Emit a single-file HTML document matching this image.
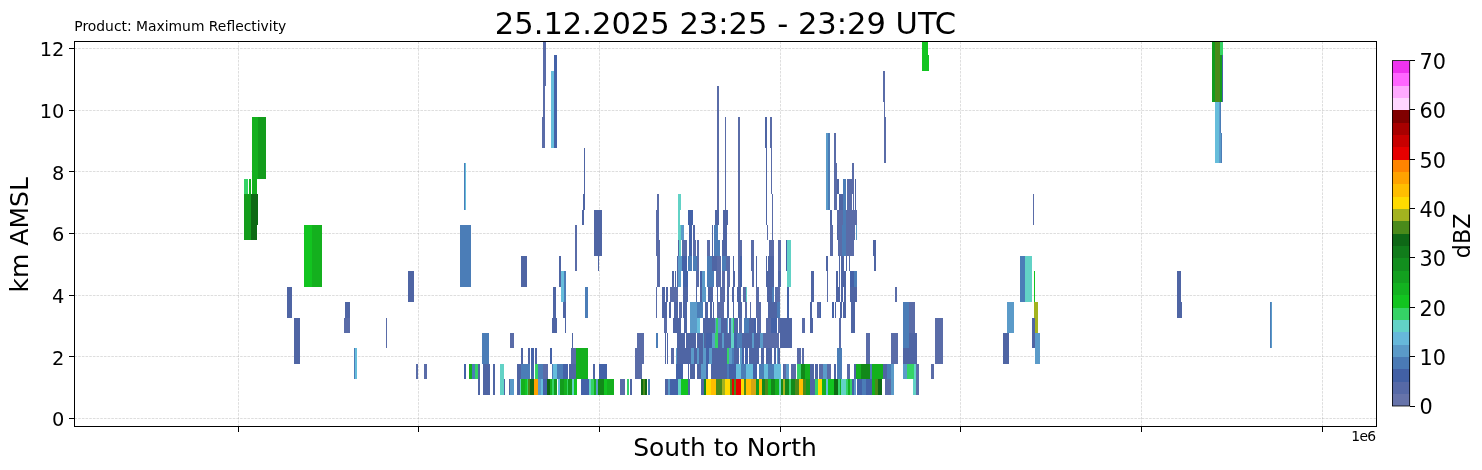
<!DOCTYPE html>
<html lang="en">
<head>
<meta charset="utf-8">
<title>25.12.2025 23:25 - 23:29 UTC</title>
<style>
html,body{margin:0;padding:0;background:#fff;}
body{width:1482px;height:470px;overflow:hidden;}
svg{display:block;will-change:transform;}
text{font-family:"DejaVu Sans","Liberation Sans",sans-serif;fill:#000;}
.g line{stroke:#b0b0b0;stroke-width:0.69;stroke-dasharray:2.57 1.11;stroke-opacity:0.6}
.t line{stroke:#000;stroke-width:1;shape-rendering:crispEdges}
.tl{font-size:19.4px}
.cl{font-size:20.8px}
</style>
</head>
<body>
<svg width="1482" height="470" viewBox="0 0 1482 470">
<rect x="0" y="0" width="1482" height="470" fill="#fff"/>

<g class="g">
<line x1="238.5" y1="41.5" x2="238.5" y2="426.5"/>
<line x1="418.5" y1="41.5" x2="418.5" y2="426.5"/>
<line x1="599.5" y1="41.5" x2="599.5" y2="426.5"/>
<line x1="780.5" y1="41.5" x2="780.5" y2="426.5"/>
<line x1="960.5" y1="41.5" x2="960.5" y2="426.5"/>
<line x1="1141.5" y1="41.5" x2="1141.5" y2="426.5"/>
<line x1="1322.5" y1="41.5" x2="1322.5" y2="426.5"/>
<line x1="74.5" y1="418.5" x2="1376.5" y2="418.5"/>
<line x1="74.5" y1="356.5" x2="1376.5" y2="356.5"/>
<line x1="74.5" y1="295.5" x2="1376.5" y2="295.5"/>
<line x1="74.5" y1="233.5" x2="1376.5" y2="233.5"/>
<line x1="74.5" y1="171.5" x2="1376.5" y2="171.5"/>
<line x1="74.5" y1="110.5" x2="1376.5" y2="110.5"/>
<line x1="74.5" y1="48.5" x2="1376.5" y2="48.5"/>
</g>
<g id="cells" shape-rendering="crispEdges">
<rect x="477.88" y="363.78" width="1.92" height="30.83" fill="#4f65a4"/>
<rect x="483.37" y="363.78" width="6.26" height="30.83" fill="#4f65a4"/>
<rect x="492.94" y="363.78" width="1.92" height="30.83" fill="#4f65a4"/>
<rect x="464.09" y="363.78" width="1.79" height="15.42" fill="#4462a8"/>
<rect x="469.19" y="363.78" width="3.19" height="15.42" fill="#14b01e"/>
<rect x="472.39" y="363.78" width="2.68" height="15.42" fill="#4b7db7"/>
<rect x="475.07" y="363.78" width="2.81" height="15.42" fill="#35d366"/>
<rect x="531.25" y="348.36" width="2.55" height="15.41" fill="#4462a8"/>
<rect x="575.93" y="348.36" width="11.75" height="15.41" fill="#14b01e"/>
<rect x="635.18" y="348.36" width="8.42" height="15.41" fill="#5a6ca8"/>
<rect x="482.34" y="332.95" width="6.38" height="30.83" fill="#4b7db7"/>
<rect x="521.03" y="348.36" width="1.79" height="15.41" fill="#4f65a4"/>
<rect x="528.31" y="348.36" width="1.66" height="15.41" fill="#4f65a4"/>
<rect x="535.33" y="348.36" width="1.28" height="15.41" fill="#4f65a4"/>
<rect x="550.14" y="348.36" width="1.79" height="15.41" fill="#4462a8"/>
<rect x="571.08" y="348.36" width="4.47" height="15.41" fill="#5a6ca8"/>
<rect x="510.18" y="332.95" width="3.45" height="15.42" fill="#5a6ca8"/>
<rect x="572" y="332.95" width="1" height="15.42" fill="#4f65a4"/>
<rect x="636.84" y="332.95" width="7.02" height="15.42" fill="#5a6ca8"/>
<rect x="688" y="379.19" width="1" height="15.41" fill="#12c420"/>
<rect x="688.26" y="379.19" width="1.53" height="15.41" fill="#4f65a4"/>
<rect x="640" y="332.95" width="1.53" height="30.83" fill="#5a6ca8"/>
<rect x="688" y="363.78" width="1" height="15.42" fill="#4f65a4"/>
<rect x="690.05" y="363.78" width="2.55" height="15.42" fill="#4f65a4"/>
<rect x="693.37" y="363.78" width="1.28" height="15.42" fill="#4f65a4"/>
<rect x="697.07" y="363.78" width="3.58" height="15.42" fill="#4f65a4"/>
<rect x="700.65" y="363.78" width="5.11" height="15.42" fill="#5b9bc9"/>
<rect x="705.76" y="363.78" width="2.3" height="15.42" fill="#4462a8"/>
<rect x="711.12" y="363.78" width="15.7" height="15.42" fill="#4f65a4"/>
<rect x="726.82" y="363.78" width="2.55" height="15.42" fill="#4b7db7"/>
<rect x="729.38" y="363.78" width="6.38" height="15.42" fill="#4462a8"/>
<rect x="735.76" y="363.78" width="5.11" height="15.42" fill="#66bddb"/>
<rect x="740.87" y="363.78" width="5.11" height="15.42" fill="#4b7db7"/>
<rect x="745.98" y="363.78" width="7.02" height="15.42" fill="#66bddb"/>
<rect x="753" y="363.78" width="3.83" height="15.42" fill="#4462a8"/>
<rect x="759" y="363.78" width="5.49" height="15.42" fill="#4b7db7"/>
<rect x="764.49" y="363.78" width="3.83" height="15.42" fill="#66bddb"/>
<rect x="768.32" y="363.78" width="5.75" height="15.42" fill="#4b7db7"/>
<rect x="774.07" y="363.78" width="7.02" height="15.42" fill="#66bddb"/>
<rect x="783" y="363.78" width="1" height="15.42" fill="#4f65a4"/>
<rect x="641.53" y="332.95" width="2.04" height="30.83" fill="#5a6ca8"/>
<rect x="665" y="332.95" width="1" height="30.83" fill="#4f65a4"/>
<rect x="667" y="332.95" width="1" height="30.83" fill="#4f65a4"/>
<rect x="671.28" y="348.36" width="2.55" height="15.41" fill="#5a6ca8"/>
<rect x="676.13" y="348.36" width="1.15" height="15.41" fill="#5b9bc9"/>
<rect x="677.28" y="348.36" width="13.79" height="15.41" fill="#4f65a4"/>
<rect x="691.07" y="348.36" width="2.55" height="15.41" fill="#5b9bc9"/>
<rect x="693.63" y="348.36" width="3.83" height="15.41" fill="#4f65a4"/>
<rect x="697.46" y="348.36" width="1.92" height="15.41" fill="#5b9bc9"/>
<rect x="699.37" y="348.36" width="3.19" height="15.41" fill="#4f65a4"/>
<rect x="702.56" y="348.36" width="3.19" height="15.41" fill="#5b9bc9"/>
<rect x="705.76" y="348.36" width="3.19" height="15.41" fill="#4462a8"/>
<rect x="708.95" y="348.36" width="2.55" height="15.41" fill="#5b9bc9"/>
<rect x="711.5" y="348.36" width="15.32" height="15.41" fill="#4f65a4"/>
<rect x="726.82" y="348.36" width="2.55" height="15.41" fill="#35d366"/>
<rect x="729.38" y="348.36" width="2.55" height="15.41" fill="#5b9bc9"/>
<rect x="731.93" y="348.36" width="2.55" height="15.41" fill="#4b7db7"/>
<rect x="734.48" y="348.36" width="4.47" height="15.41" fill="#4f65a4"/>
<rect x="740.23" y="348.36" width="1.92" height="15.41" fill="#5b9bc9"/>
<rect x="742.15" y="348.36" width="1.92" height="15.41" fill="#4462a8"/>
<rect x="745.34" y="348.36" width="2.55" height="15.41" fill="#4462a8"/>
<rect x="749.17" y="348.36" width="9.58" height="15.41" fill="#4f65a4"/>
<rect x="761.04" y="348.36" width="2.81" height="15.41" fill="#4f65a4"/>
<rect x="766.15" y="348.36" width="6" height="15.41" fill="#4f65a4"/>
<rect x="774.07" y="348.36" width="1.53" height="15.41" fill="#4f65a4"/>
<rect x="776.62" y="348.36" width="1.28" height="15.41" fill="#5b9bc9"/>
<rect x="777.9" y="348.36" width="2.55" height="15.41" fill="#4f65a4"/>
<rect x="797.3" y="348.36" width="3.58" height="15.41" fill="#5a6ca8"/>
<rect x="801.9" y="348.36" width="1.79" height="15.41" fill="#5a6ca8"/>
<rect x="656.34" y="332.95" width="1.53" height="15.42" fill="#4b7db7"/>
<rect x="677.28" y="332.95" width="7.41" height="15.42" fill="#4f65a4"/>
<rect x="685.97" y="332.95" width="9.58" height="15.42" fill="#4f65a4"/>
<rect x="696.82" y="332.95" width="5.75" height="15.42" fill="#4f65a4"/>
<rect x="702.56" y="332.95" width="1.28" height="15.42" fill="#5b9bc9"/>
<rect x="703.84" y="332.95" width="2.55" height="15.42" fill="#4f65a4"/>
<rect x="706.39" y="332.95" width="5.11" height="15.42" fill="#4462a8"/>
<rect x="711.5" y="332.95" width="3.83" height="15.42" fill="#5b9bc9"/>
<rect x="715.33" y="332.95" width="2.55" height="15.42" fill="#35d366"/>
<rect x="717.89" y="332.95" width="3.83" height="15.42" fill="#4f65a4"/>
<rect x="721.72" y="332.95" width="2.55" height="15.42" fill="#5b9bc9"/>
<rect x="724.27" y="332.95" width="6.38" height="15.42" fill="#4f65a4"/>
<rect x="730.65" y="332.95" width="3.83" height="15.42" fill="#62d2c6"/>
<rect x="734.48" y="332.95" width="2.55" height="15.42" fill="#4462a8"/>
<rect x="737.04" y="332.95" width="5.11" height="15.42" fill="#4b7db7"/>
<rect x="742.15" y="332.95" width="10.21" height="15.42" fill="#4f65a4"/>
<rect x="752.36" y="332.95" width="1.92" height="15.42" fill="#5b9bc9"/>
<rect x="754.27" y="332.95" width="5.75" height="15.42" fill="#4f65a4"/>
<rect x="760.02" y="332.95" width="3.19" height="15.42" fill="#5b9bc9"/>
<rect x="763.21" y="332.95" width="15.32" height="15.42" fill="#5a6ca8"/>
<rect x="780.45" y="332.95" width="11.24" height="15.42" fill="#4f65a4"/>
<rect x="878" y="379.19" width="1" height="15.41" fill="#4a8a1a"/>
<rect x="878.09" y="379.19" width="3.83" height="15.41" fill="#0e6a14"/>
<rect x="885.12" y="363.78" width="5.75" height="30.83" fill="#5a6ca8"/>
<rect x="890.86" y="363.78" width="2.94" height="30.83" fill="#5b9bc9"/>
<rect x="913.21" y="379.19" width="2.81" height="15.41" fill="#62d2c6"/>
<rect x="916.02" y="363.78" width="2.94" height="30.83" fill="#5a6ca8"/>
<rect x="837.24" y="348.36" width="4.47" height="15.41" fill="#4b7db7"/>
<rect x="878" y="363.78" width="4.56" height="15.42" fill="#14b01e"/>
<rect x="882.56" y="363.78" width="4.47" height="15.42" fill="#4f65a4"/>
<rect x="887.03" y="363.78" width="3.83" height="15.42" fill="#4b7db7"/>
<rect x="903.25" y="363.78" width="4.21" height="15.42" fill="#5b9bc9"/>
<rect x="907.46" y="363.78" width="6.38" height="15.42" fill="#35d366"/>
<rect x="913.85" y="363.78" width="2.17" height="15.42" fill="#62d2c6"/>
<rect x="931.08" y="363.78" width="2.81" height="15.42" fill="#5a6ca8"/>
<rect x="839.15" y="332.95" width="1.53" height="15.42" fill="#5a6ca8"/>
<rect x="866.22" y="332.95" width="3.58" height="30.83" fill="#5a6ca8"/>
<rect x="891.25" y="332.95" width="6.64" height="30.83" fill="#5a6ca8"/>
<rect x="903.25" y="348.36" width="13.53" height="15.41" fill="#4f65a4"/>
<rect x="903.25" y="332.95" width="6.13" height="15.42" fill="#4b7db7"/>
<rect x="909.38" y="332.95" width="7.41" height="15.42" fill="#4f65a4"/>
<rect x="935.17" y="332.95" width="7.66" height="30.83" fill="#5a6ca8"/>
<rect x="1003.22" y="332.95" width="1.79" height="30.83" fill="#5a6ca8"/>
<rect x="1003" y="332.95" width="6" height="30.83" fill="#4f65a4"/>
<rect x="1007.1" y="302.12" width="6.9" height="30.83" fill="#5b9bc9"/>
<rect x="1020.3" y="255.87" width="4.7" height="46.25" fill="#4b7db7"/>
<rect x="1025" y="255.87" width="6.9" height="46.25" fill="#62d2c6"/>
<rect x="1034" y="271.29" width="1" height="30.83" fill="#12c420"/>
<rect x="1033.9" y="302.12" width="4.4" height="30.83" fill="#a3b31f"/>
<rect x="1031.9" y="317.53" width="2.7" height="30.83" fill="#4f65a4"/>
<rect x="1035.2" y="332.95" width="4.6" height="30.83" fill="#5b9bc9"/>
<rect x="1033" y="194.21" width="1" height="30.83" fill="#5a6ca8"/>
<rect x="1177.1" y="271.29" width="3.9" height="46.25" fill="#4f65a4"/>
<rect x="1181" y="302.12" width="1" height="15.41" fill="#4f65a4"/>
<rect x="1270" y="302.12" width="1" height="46.25" fill="#4b7db7"/>
<rect x="1271" y="302.12" width="1" height="46.25" fill="#5b9bc9"/>
<rect x="1212.2" y="41.5" width="3.2" height="60.22" fill="#139c1c"/>
<rect x="1215.4" y="41.5" width="4.5" height="60.22" fill="#4a8a1a"/>
<rect x="1219.9" y="55.48" width="2.6" height="46.25" fill="#139c1c"/>
<rect x="1219.9" y="41.5" width="2.6" height="13.98" fill="#35d366"/>
<rect x="1222" y="55.48" width="1" height="46.25" fill="#4462a8"/>
<rect x="1215.1" y="101.72" width="4.3" height="61.66" fill="#66bddb"/>
<rect x="1219.4" y="101.72" width="1.1" height="61.66" fill="#5b9bc9"/>
<rect x="1220" y="101.72" width="1" height="30.83" fill="#4b7db7"/>
<rect x="1220.5" y="132.55" width="1.7" height="30.83" fill="#4b7db7"/>
<rect x="252.3" y="117.14" width="6" height="61.66" fill="#14b01e"/>
<rect x="258.3" y="117.14" width="7.7" height="61.66" fill="#139c1c"/>
<rect x="244.3" y="178.8" width="3.7" height="15.41" fill="#35d366"/>
<rect x="249.1" y="178.8" width="1.6" height="15.41" fill="#14b01e"/>
<rect x="251.6" y="178.8" width="5.1" height="15.41" fill="#14b01e"/>
<rect x="244.3" y="194.21" width="6.9" height="46.25" fill="#139c1c"/>
<rect x="251.2" y="194.21" width="6.3" height="30.83" fill="#0e6a14"/>
<rect x="251.2" y="225.04" width="5.6" height="15.41" fill="#0e6a14"/>
<rect x="304.2" y="225.04" width="8" height="61.66" fill="#12c420"/>
<rect x="312.2" y="225.04" width="9.8" height="61.66" fill="#14b01e"/>
<rect x="287.1" y="286.7" width="4.8" height="30.83" fill="#4f65a4"/>
<rect x="294.3" y="317.53" width="5.5" height="46.25" fill="#4f65a4"/>
<rect x="345.3" y="302.12" width="4.6" height="15.41" fill="#4f65a4"/>
<rect x="344" y="317.53" width="5.9" height="15.42" fill="#5a6ca8"/>
<rect x="354" y="348.36" width="1" height="30.83" fill="#4b7db7"/>
<rect x="355" y="348.36" width="1.8" height="30.83" fill="#66bddb"/>
<rect x="386" y="317.53" width="1" height="30.83" fill="#5a6ca8"/>
<rect x="408.2" y="271.29" width="5.6" height="30.83" fill="#4f65a4"/>
<rect x="416.3" y="363.78" width="1.7" height="15.42" fill="#5a6ca8"/>
<rect x="424.2" y="363.78" width="2.8" height="15.42" fill="#5a6ca8"/>
<rect x="460.1" y="225.04" width="10.7" height="61.66" fill="#4b7db7"/>
<rect x="521.1" y="255.87" width="5.6" height="30.83" fill="#4f65a4"/>
<rect x="559.1" y="255.87" width="1.5" height="30.83" fill="#4f65a4"/>
<rect x="560.6" y="271.29" width="2.9" height="30.83" fill="#66bddb"/>
<rect x="563.5" y="271.29" width="2" height="30.83" fill="#4b7db7"/>
<rect x="553.2" y="286.7" width="2.6" height="30.83" fill="#4f65a4"/>
<rect x="552.2" y="317.53" width="4.6" height="15.42" fill="#4f65a4"/>
<rect x="563.2" y="302.12" width="2.3" height="15.41" fill="#4f65a4"/>
<rect x="565" y="317.53" width="1" height="15.42" fill="#4f65a4"/>
<rect x="575.2" y="225.04" width="1.5" height="46.24" fill="#5a6ca8"/>
<rect x="594.1" y="209.63" width="7.6" height="46.25" fill="#4f65a4"/>
<rect x="597.9" y="255.87" width="1" height="15.41" fill="#4f65a4"/>
<rect x="585.1" y="286.7" width="2.9" height="30.83" fill="#4b7db7"/>
<rect x="464" y="163.38" width="1" height="46.24" fill="#4b7db7"/>
<rect x="464.5" y="163.38" width="1.2" height="46.24" fill="#66bddb"/>
<rect x="584.1" y="147.97" width="1" height="46.25" fill="#4f65a4"/>
<rect x="583.3" y="194.21" width="1.2" height="15.41" fill="#4f65a4"/>
<rect x="582.1" y="209.63" width="1.5" height="15.42" fill="#4f65a4"/>
<rect x="543" y="41.5" width="2.8" height="44.81" fill="#5a6ca8"/>
<rect x="542.5" y="86.31" width="2.3" height="30.83" fill="#5a6ca8"/>
<rect x="542" y="117.14" width="2.8" height="30.83" fill="#5a6ca8"/>
<rect x="551.4" y="70.89" width="2.6" height="77.07" fill="#66bddb"/>
<rect x="554" y="55.48" width="2.8" height="92.49" fill="#4462a8"/>
<rect x="664.26" y="317.53" width="2.55" height="15.42" fill="#5a6ca8"/>
<rect x="673.45" y="317.53" width="8.04" height="15.42" fill="#4f65a4"/>
<rect x="684.43" y="317.53" width="3.06" height="15.42" fill="#4f65a4"/>
<rect x="690.43" y="302.12" width="7.02" height="30.83" fill="#5b9bc9"/>
<rect x="697.46" y="317.53" width="2.55" height="15.42" fill="#66bddb"/>
<rect x="702.82" y="317.53" width="12.51" height="15.42" fill="#4f65a4"/>
<rect x="715" y="317.53" width="1" height="15.42" fill="#5b9bc9"/>
<rect x="716.1" y="317.53" width="2.04" height="15.42" fill="#35d366"/>
<rect x="718.14" y="317.53" width="2.94" height="15.42" fill="#5b9bc9"/>
<rect x="721.08" y="317.53" width="5.75" height="15.42" fill="#4f65a4"/>
<rect x="726.82" y="317.53" width="1.28" height="15.42" fill="#5b9bc9"/>
<rect x="729.38" y="317.53" width="1.53" height="15.42" fill="#4f65a4"/>
<rect x="730.91" y="317.53" width="2.04" height="15.42" fill="#62d2c6"/>
<rect x="732.95" y="317.53" width="1.53" height="15.42" fill="#35d366"/>
<rect x="734.48" y="317.53" width="3.19" height="15.42" fill="#4f65a4"/>
<rect x="738.95" y="317.53" width="3.19" height="15.42" fill="#5a6ca8"/>
<rect x="744.06" y="317.53" width="4.47" height="15.42" fill="#4b7db7"/>
<rect x="748.53" y="317.53" width="5.11" height="15.42" fill="#4f65a4"/>
<rect x="753.64" y="317.53" width="1.92" height="15.42" fill="#4462a8"/>
<rect x="756.83" y="317.53" width="3.83" height="15.42" fill="#5a6ca8"/>
<rect x="765.77" y="317.53" width="5.11" height="15.42" fill="#5a6ca8"/>
<rect x="770.87" y="317.53" width="5.75" height="15.42" fill="#4462a8"/>
<rect x="777.9" y="317.53" width="2.55" height="15.42" fill="#5a6ca8"/>
<rect x="780.45" y="317.53" width="11.24" height="15.42" fill="#4f65a4"/>
<rect x="802.41" y="317.53" width="2.3" height="15.42" fill="#5a6ca8"/>
<rect x="810.45" y="317.53" width="2.17" height="15.42" fill="#4f65a4"/>
<rect x="655.96" y="286.7" width="1.28" height="30.83" fill="#5a6ca8"/>
<rect x="662.34" y="302.12" width="5.11" height="15.41" fill="#4f65a4"/>
<rect x="669.11" y="302.12" width="1.79" height="15.41" fill="#4f65a4"/>
<rect x="674.47" y="302.12" width="3.19" height="15.41" fill="#4f65a4"/>
<rect x="679.33" y="302.12" width="2.17" height="15.41" fill="#5a6ca8"/>
<rect x="683.41" y="302.12" width="3.83" height="15.41" fill="#4f65a4"/>
<rect x="697.46" y="302.12" width="5.11" height="15.41" fill="#4b7db7"/>
<rect x="705.12" y="302.12" width="2.55" height="15.41" fill="#4f65a4"/>
<rect x="709.59" y="302.12" width="2.17" height="15.41" fill="#4f65a4"/>
<rect x="713" y="302.12" width="1" height="15.41" fill="#4f65a4"/>
<rect x="716.61" y="302.12" width="7.66" height="15.41" fill="#5a6ca8"/>
<rect x="727.46" y="302.12" width="1.92" height="15.41" fill="#4f65a4"/>
<rect x="732.57" y="302.12" width="1.92" height="15.41" fill="#4f65a4"/>
<rect x="738.31" y="302.12" width="3.19" height="15.41" fill="#4f65a4"/>
<rect x="744.7" y="302.12" width="1.92" height="15.41" fill="#5a6ca8"/>
<rect x="749.81" y="302.12" width="1.28" height="15.41" fill="#5a6ca8"/>
<rect x="756.19" y="302.12" width="4.47" height="15.41" fill="#5a6ca8"/>
<rect x="767.68" y="302.12" width="9.58" height="15.41" fill="#4f65a4"/>
<rect x="777.26" y="302.12" width="3.19" height="15.41" fill="#4b7db7"/>
<rect x="786.83" y="286.7" width="1.92" height="30.83" fill="#4462a8"/>
<rect x="810.45" y="302.12" width="1.28" height="15.41" fill="#4f65a4"/>
<rect x="817.48" y="302.12" width="3.19" height="15.41" fill="#5a6ca8"/>
<rect x="662.34" y="286.7" width="2.55" height="15.42" fill="#4f65a4"/>
<rect x="666.17" y="286.7" width="1.66" height="15.42" fill="#4f65a4"/>
<rect x="669.62" y="286.7" width="8.04" height="15.42" fill="#5a6ca8"/>
<rect x="683.41" y="286.7" width="4.85" height="15.42" fill="#4f65a4"/>
<rect x="695.54" y="286.7" width="1.28" height="15.42" fill="#4f65a4"/>
<rect x="700.01" y="286.7" width="1.92" height="15.42" fill="#4f65a4"/>
<rect x="701.93" y="286.7" width="4.47" height="15.42" fill="#5b9bc9"/>
<rect x="708.31" y="286.7" width="5.11" height="15.42" fill="#4f65a4"/>
<rect x="716.61" y="286.7" width="1.53" height="15.42" fill="#4f65a4"/>
<rect x="719.8" y="286.7" width="5.11" height="15.42" fill="#5a6ca8"/>
<rect x="727.46" y="286.7" width="1.92" height="15.42" fill="#4f65a4"/>
<rect x="732.19" y="286.7" width="1.66" height="15.42" fill="#4f65a4"/>
<rect x="737.04" y="286.7" width="3.83" height="15.42" fill="#4f65a4"/>
<rect x="743.17" y="286.7" width="2.81" height="15.42" fill="#5a6ca8"/>
<rect x="745.98" y="286.7" width="1.02" height="15.42" fill="#62d2c6"/>
<rect x="756.19" y="286.7" width="3.19" height="15.42" fill="#5a6ca8"/>
<rect x="767.04" y="286.7" width="2.55" height="15.42" fill="#4f65a4"/>
<rect x="770.23" y="286.7" width="1.28" height="15.42" fill="#4f65a4"/>
<rect x="772.15" y="286.7" width="1.92" height="15.42" fill="#4b7db7"/>
<rect x="775.34" y="286.7" width="4.47" height="15.42" fill="#5a6ca8"/>
<rect x="811.09" y="286.7" width="2.81" height="15.42" fill="#4f65a4"/>
<rect x="733.21" y="271.29" width="1.53" height="15.42" fill="#4f65a4"/>
<rect x="737.68" y="255.87" width="3.83" height="30.83" fill="#4462a8"/>
<rect x="752.1" y="271.29" width="1.53" height="15.42" fill="#5a6ca8"/>
<rect x="756.19" y="271.29" width="1.28" height="15.42" fill="#4f65a4"/>
<rect x="766.4" y="271.29" width="5.11" height="15.42" fill="#4f65a4"/>
<rect x="772.15" y="271.29" width="1.92" height="15.42" fill="#4f65a4"/>
<rect x="778.41" y="271.29" width="2.55" height="15.42" fill="#4f65a4"/>
<rect x="786.83" y="240.46" width="4.09" height="46.25" fill="#62d2c6"/>
<rect x="811.09" y="271.29" width="2.81" height="15.42" fill="#4f65a4"/>
<rect x="682.13" y="240.46" width="4.47" height="15.41" fill="#5a6ca8"/>
<rect x="688.52" y="225.04" width="3.19" height="30.83" fill="#4462a8"/>
<rect x="733.21" y="255.87" width="1.02" height="15.41" fill="#4f65a4"/>
<rect x="751.47" y="240.46" width="2.17" height="30.83" fill="#5a6ca8"/>
<rect x="756" y="255.87" width="1" height="15.41" fill="#4f65a4"/>
<rect x="766" y="255.87" width="1" height="15.41" fill="#4f65a4"/>
<rect x="768.32" y="255.87" width="5.75" height="15.41" fill="#4f65a4"/>
<rect x="778.15" y="240.46" width="2.81" height="30.83" fill="#5a6ca8"/>
<rect x="785.56" y="240.46" width="1.28" height="30.83" fill="#4462a8"/>
<rect x="656.34" y="240.46" width="3.45" height="15.41" fill="#5a6ca8"/>
<rect x="677.67" y="240.46" width="1.28" height="15.41" fill="#4f65a4"/>
<rect x="678.94" y="240.46" width="2.55" height="15.41" fill="#62d2c6"/>
<rect x="693.37" y="240.46" width="2.55" height="15.41" fill="#5a6ca8"/>
<rect x="697.2" y="240.46" width="1.53" height="15.41" fill="#5a6ca8"/>
<rect x="707.42" y="240.46" width="2.17" height="15.41" fill="#5a6ca8"/>
<rect x="711.5" y="240.46" width="1.92" height="15.41" fill="#4f65a4"/>
<rect x="714.06" y="240.46" width="5.75" height="15.41" fill="#4b7db7"/>
<rect x="722.35" y="240.46" width="5.11" height="15.41" fill="#4f65a4"/>
<rect x="739.59" y="240.46" width="2.17" height="15.41" fill="#5a6ca8"/>
<rect x="769.21" y="240.46" width="5.11" height="15.41" fill="#5a6ca8"/>
<rect x="656.34" y="225.04" width="2.55" height="15.41" fill="#5a6ca8"/>
<rect x="678.3" y="225.04" width="2.55" height="15.41" fill="#62d2c6"/>
<rect x="680.86" y="225.04" width="2.81" height="15.41" fill="#5b9bc9"/>
<rect x="693.37" y="225.04" width="1.53" height="15.41" fill="#4f65a4"/>
<rect x="711.5" y="225.04" width="1.53" height="15.41" fill="#4f65a4"/>
<rect x="714.31" y="225.04" width="3.83" height="15.41" fill="#4b7db7"/>
<rect x="723.25" y="225.04" width="4.21" height="15.41" fill="#4f65a4"/>
<rect x="738.06" y="225.04" width="1.53" height="15.41" fill="#5a6ca8"/>
<rect x="767" y="225.04" width="1" height="15.41" fill="#5a6ca8"/>
<rect x="772" y="225.04" width="1" height="15.41" fill="#5a6ca8"/>
<rect x="656.98" y="194.21" width="1.92" height="15.41" fill="#5a6ca8"/>
<rect x="655.96" y="209.63" width="2.94" height="15.42" fill="#5a6ca8"/>
<rect x="678.05" y="194.21" width="2.81" height="15.41" fill="#62d2c6"/>
<rect x="678.05" y="209.63" width="1.79" height="15.42" fill="#62d2c6"/>
<rect x="688.26" y="209.63" width="4.34" height="15.42" fill="#4462a8"/>
<rect x="715.33" y="209.63" width="3.19" height="15.42" fill="#4f65a4"/>
<rect x="723.25" y="209.63" width="4.6" height="15.42" fill="#4f65a4"/>
<rect x="717" y="86.31" width="2.2" height="123.32" fill="#5a6ca8"/>
<rect x="725" y="117.14" width="1" height="92.49" fill="#5a6ca8"/>
<rect x="738.2" y="117.14" width="1.7" height="169.56" fill="#5a6ca8"/>
<rect x="765.2" y="117.14" width="1.8" height="30.83" fill="#4f65a4"/>
<rect x="766.1" y="147.97" width="1.2" height="77.08" fill="#4f65a4"/>
<rect x="770.4" y="117.14" width="1.4" height="30.83" fill="#5a6ca8"/>
<rect x="771" y="147.97" width="1" height="46.25" fill="#5a6ca8"/>
<rect x="771.5" y="194.21" width="1.2" height="30.83" fill="#5a6ca8"/>
<rect x="839.15" y="317.53" width="1.53" height="15.42" fill="#5a6ca8"/>
<rect x="851.28" y="302.12" width="3.45" height="30.83" fill="#4f65a4"/>
<rect x="903.25" y="302.12" width="6.13" height="30.83" fill="#4b7db7"/>
<rect x="909.38" y="302.12" width="5.36" height="30.83" fill="#5a6ca8"/>
<rect x="935.17" y="317.53" width="7.66" height="15.42" fill="#5a6ca8"/>
<rect x="820" y="302.12" width="1.02" height="15.41" fill="#4462a8"/>
<rect x="832.13" y="302.12" width="1.66" height="15.41" fill="#4462a8"/>
<rect x="835" y="302.12" width="1" height="15.41" fill="#4f65a4"/>
<rect x="840.17" y="302.12" width="1.79" height="15.41" fill="#4f65a4"/>
<rect x="843.24" y="302.12" width="2.55" height="15.41" fill="#4f65a4"/>
<rect x="827" y="271.29" width="1" height="30.83" fill="#5a6ca8"/>
<rect x="836.34" y="286.7" width="3.45" height="15.42" fill="#4f65a4"/>
<rect x="841.07" y="286.7" width="1.66" height="15.42" fill="#4f65a4"/>
<rect x="843.62" y="286.7" width="2.17" height="15.42" fill="#4f65a4"/>
<rect x="850.01" y="286.7" width="7.02" height="15.42" fill="#4f65a4"/>
<rect x="895.08" y="286.7" width="1.79" height="15.42" fill="#5a6ca8"/>
<rect x="835.96" y="271.29" width="1.92" height="15.42" fill="#4f65a4"/>
<rect x="839.15" y="271.29" width="1.28" height="15.42" fill="#4f65a4"/>
<rect x="841.07" y="271.29" width="4.47" height="15.42" fill="#4f65a4"/>
<rect x="850.01" y="271.29" width="3.83" height="15.42" fill="#4462a8"/>
<rect x="853.84" y="271.29" width="3.19" height="15.42" fill="#4b7db7"/>
<rect x="826.13" y="255.87" width="1.79" height="15.41" fill="#4f65a4"/>
<rect x="839" y="255.87" width="1" height="15.41" fill="#4f65a4"/>
<rect x="841.07" y="255.87" width="2.55" height="15.41" fill="#4f65a4"/>
<rect x="846" y="255.87" width="1" height="15.41" fill="#4f65a4"/>
<rect x="849" y="255.87" width="1" height="15.41" fill="#4f65a4"/>
<rect x="873.88" y="255.87" width="2.04" height="15.41" fill="#4f65a4"/>
<rect x="829.96" y="225.04" width="2.81" height="30.83" fill="#5a6ca8"/>
<rect x="837.88" y="225.04" width="3.83" height="30.83" fill="#5a6ca8"/>
<rect x="841.71" y="225.04" width="3.83" height="30.83" fill="#4b7db7"/>
<rect x="845.54" y="240.46" width="8.3" height="15.41" fill="#5a6ca8"/>
<rect x="872.99" y="240.46" width="2.94" height="15.41" fill="#4f65a4"/>
<rect x="836.85" y="225.04" width="1.02" height="15.41" fill="#4f65a4"/>
<rect x="845.54" y="225.04" width="9.19" height="15.41" fill="#5a6ca8"/>
<rect x="856" y="225.04" width="1" height="15.41" fill="#5b9bc9"/>
<rect x="830.21" y="209.63" width="1.92" height="15.42" fill="#4f65a4"/>
<rect x="837.24" y="209.63" width="5.75" height="15.42" fill="#5a6ca8"/>
<rect x="842.98" y="209.63" width="3.19" height="15.42" fill="#4b7db7"/>
<rect x="846.17" y="209.63" width="10.85" height="15.42" fill="#5a6ca8"/>
<rect x="826.13" y="132.55" width="1.79" height="77.07" fill="#5b9bc9"/>
<rect x="827.92" y="132.55" width="1.92" height="77.07" fill="#4b7db7"/>
<rect x="834.3" y="163.38" width="2.94" height="46.24" fill="#5a6ca8"/>
<rect x="834.04" y="132.55" width="1.79" height="30.83" fill="#5a6ca8"/>
<rect x="839.15" y="194.21" width="3.83" height="15.41" fill="#4f65a4"/>
<rect x="842.98" y="178.8" width="3.19" height="30.83" fill="#4b7db7"/>
<rect x="847.07" y="178.8" width="4.85" height="30.83" fill="#5a6ca8"/>
<rect x="853" y="194.21" width="1" height="15.41" fill="#5a6ca8"/>
<rect x="851.92" y="163.38" width="1.92" height="30.83" fill="#5a6ca8"/>
<rect x="855" y="178.8" width="1" height="30.83" fill="#4f65a4"/>
<rect x="837.24" y="178.8" width="1.92" height="15.41" fill="#4f65a4"/>
<rect x="884.2" y="117.14" width="1.7" height="46.25" fill="#5a6ca8"/>
<rect x="884" y="101.72" width="1.1" height="15.42" fill="#5a6ca8"/>
<rect x="883.4" y="70.89" width="1.1" height="30.83" fill="#5a6ca8"/>
<rect x="922.1" y="41.5" width="5.7" height="29.39" fill="#12c420"/>
<rect x="927.8" y="55.48" width="1" height="15.42" fill="#12c420"/>
<rect x="701.17" y="379.19" width="2.55" height="15.41" fill="#4f65a4"/>
<rect x="703.72" y="379.19" width="2.23" height="15.41" fill="#128819"/>
<rect x="705.95" y="379.19" width="5.11" height="15.41" fill="#ffdb00"/>
<rect x="711.06" y="379.19" width="4.98" height="15.41" fill="#ffbe00"/>
<rect x="716.04" y="379.19" width="5.74" height="15.41" fill="#4a8a1a"/>
<rect x="721.78" y="379.19" width="3" height="15.41" fill="#a3b31f"/>
<rect x="724.78" y="379.19" width="5.3" height="15.41" fill="#ffdb00"/>
<rect x="730.08" y="379.19" width="1.72" height="15.41" fill="#4a8a1a"/>
<rect x="731.8" y="379.19" width="2.23" height="15.41" fill="#e60000"/>
<rect x="734.03" y="379.19" width="1.91" height="15.41" fill="#4a8a1a"/>
<rect x="735.95" y="379.19" width="4.79" height="15.41" fill="#e60000"/>
<rect x="740.73" y="379.19" width="3.38" height="15.41" fill="#ffdb00"/>
<rect x="744.12" y="379.19" width="1.91" height="15.41" fill="#4a8a1a"/>
<rect x="746.03" y="379.19" width="4.59" height="15.41" fill="#ffbe00"/>
<rect x="750.63" y="379.19" width="5.42" height="15.41" fill="#d6a511"/>
<rect x="756.05" y="379.19" width="2.87" height="15.41" fill="#139c1c"/>
<rect x="758.92" y="379.19" width="3.19" height="15.41" fill="#ffbe00"/>
<rect x="762.11" y="379.19" width="2.87" height="15.41" fill="#128819"/>
<rect x="764.98" y="379.19" width="2.87" height="15.41" fill="#4a8a1a"/>
<rect x="767.86" y="379.19" width="3.19" height="15.41" fill="#12c420"/>
<rect x="771.05" y="379.19" width="3.83" height="15.41" fill="#128819"/>
<rect x="774.88" y="379.19" width="3.83" height="15.41" fill="#14b01e"/>
<rect x="778.7" y="379.19" width="2.23" height="15.41" fill="#62d2c6"/>
<rect x="780.94" y="379.19" width="1.91" height="15.41" fill="#128819"/>
<rect x="782.85" y="379.19" width="1.15" height="15.41" fill="#a3b31f"/>
<rect x="784" y="379.19" width="1.28" height="15.41" fill="#a3b31f"/>
<rect x="785.28" y="379.19" width="3.7" height="15.41" fill="#128819"/>
<rect x="788.98" y="379.19" width="1.91" height="15.41" fill="#35d366"/>
<rect x="790.89" y="379.19" width="3.96" height="15.41" fill="#128819"/>
<rect x="794.85" y="379.19" width="4.15" height="15.41" fill="#4a8a1a"/>
<rect x="799" y="379.19" width="4.15" height="15.41" fill="#ffbe00"/>
<rect x="803.14" y="379.19" width="2.87" height="15.41" fill="#4a8a1a"/>
<rect x="806.02" y="379.19" width="4.15" height="15.41" fill="#139c1c"/>
<rect x="810.16" y="379.19" width="5.11" height="15.41" fill="#4f65a4"/>
<rect x="815.27" y="379.19" width="2.55" height="15.41" fill="#35d366"/>
<rect x="817.82" y="379.19" width="4.15" height="15.41" fill="#ffdb00"/>
<rect x="821.97" y="379.19" width="4.15" height="15.41" fill="#14b01e"/>
<rect x="826.12" y="379.19" width="1.91" height="15.41" fill="#66bddb"/>
<rect x="828.03" y="379.19" width="6.06" height="15.41" fill="#12c420"/>
<rect x="834.1" y="379.19" width="3.83" height="15.41" fill="#0e6a14"/>
<rect x="837.92" y="379.19" width="1.6" height="15.41" fill="#35d366"/>
<rect x="839.52" y="379.19" width="1.6" height="15.41" fill="#14b01e"/>
<rect x="841.12" y="379.19" width="5.11" height="15.41" fill="#62d2c6"/>
<rect x="846.22" y="379.19" width="1.6" height="15.41" fill="#35d366"/>
<rect x="847.82" y="379.19" width="1.91" height="15.41" fill="#14b01e"/>
<rect x="849.73" y="379.19" width="1.91" height="15.41" fill="#35d366"/>
<rect x="851.65" y="379.19" width="2.23" height="15.41" fill="#4462a8"/>
<rect x="853.88" y="379.19" width="1.91" height="15.41" fill="#5b9bc9"/>
<rect x="857.07" y="379.19" width="5.11" height="15.41" fill="#4462a8"/>
<rect x="862.17" y="379.19" width="4.15" height="15.41" fill="#4b7db7"/>
<rect x="866.32" y="379.19" width="5.74" height="15.41" fill="#4462a8"/>
<rect x="872.07" y="379.19" width="2.87" height="15.41" fill="#14b01e"/>
<rect x="874.94" y="379.19" width="3.06" height="15.41" fill="#4a8a1a"/>
<rect x="784" y="363.78" width="1.91" height="15.42" fill="#5a6ca8"/>
<rect x="785.91" y="363.78" width="2.87" height="15.42" fill="#5b9bc9"/>
<rect x="791.02" y="363.78" width="4.79" height="15.42" fill="#5a6ca8"/>
<rect x="797.08" y="363.78" width="3.83" height="15.42" fill="#35d366"/>
<rect x="800.91" y="363.78" width="4.15" height="15.42" fill="#128819"/>
<rect x="805.06" y="363.78" width="5.11" height="15.42" fill="#14b01e"/>
<rect x="810.16" y="363.78" width="3.83" height="15.42" fill="#4f65a4"/>
<rect x="814.95" y="363.78" width="2.87" height="15.42" fill="#4f65a4"/>
<rect x="819.1" y="363.78" width="3.83" height="15.42" fill="#5a6ca8"/>
<rect x="822.93" y="363.78" width="4.47" height="15.42" fill="#5b9bc9"/>
<rect x="827.4" y="363.78" width="3.19" height="15.42" fill="#5a6ca8"/>
<rect x="834.1" y="363.78" width="1.91" height="15.42" fill="#4f65a4"/>
<rect x="836.97" y="363.78" width="4.79" height="15.42" fill="#4b7db7"/>
<rect x="847.18" y="363.78" width="2.55" height="15.42" fill="#5a6ca8"/>
<rect x="854.2" y="363.78" width="1.91" height="15.42" fill="#4f65a4"/>
<rect x="856.11" y="363.78" width="5.11" height="15.42" fill="#14b01e"/>
<rect x="861.22" y="363.78" width="8.62" height="15.42" fill="#128819"/>
<rect x="869.83" y="363.78" width="2.23" height="15.42" fill="#4b7db7"/>
<rect x="872.07" y="363.78" width="5.93" height="15.42" fill="#14b01e"/>
<rect x="500" y="363.78" width="3.51" height="30.83" fill="#62d2c6"/>
<rect x="503.51" y="379.19" width="1.28" height="15.41" fill="#4f65a4"/>
<rect x="509" y="379.19" width="1" height="15.41" fill="#4f65a4"/>
<rect x="510.21" y="379.19" width="3.51" height="15.41" fill="#5b9bc9"/>
<rect x="517.1" y="379.19" width="3" height="15.41" fill="#4f65a4"/>
<rect x="520.1" y="379.19" width="1.08" height="15.41" fill="#62d2c6"/>
<rect x="521.19" y="379.19" width="3.38" height="15.41" fill="#14b01e"/>
<rect x="524.57" y="379.19" width="2.23" height="15.41" fill="#12c420"/>
<rect x="526.8" y="379.19" width="1.28" height="15.41" fill="#35d366"/>
<rect x="528.08" y="379.19" width="2.23" height="15.41" fill="#4a8a1a"/>
<rect x="530.31" y="379.19" width="3.51" height="15.41" fill="#0e6a14"/>
<rect x="533.82" y="379.19" width="4.47" height="15.41" fill="#ffa300"/>
<rect x="538.29" y="379.19" width="2.55" height="15.41" fill="#5b9bc9"/>
<rect x="540.84" y="379.19" width="2.23" height="15.41" fill="#66bddb"/>
<rect x="543.08" y="379.19" width="4.15" height="15.41" fill="#4462a8"/>
<rect x="547.22" y="379.19" width="3.19" height="15.41" fill="#0e6a14"/>
<rect x="550.41" y="379.19" width="1.6" height="15.41" fill="#14b01e"/>
<rect x="552.01" y="379.19" width="1.91" height="15.41" fill="#35d366"/>
<rect x="553.92" y="379.19" width="2.87" height="15.41" fill="#139c1c"/>
<rect x="558.07" y="379.19" width="1.91" height="15.41" fill="#66bddb"/>
<rect x="559.99" y="379.19" width="3.83" height="15.41" fill="#139c1c"/>
<rect x="563.82" y="379.19" width="2.87" height="15.41" fill="#14b01e"/>
<rect x="566.69" y="379.19" width="1.28" height="15.41" fill="#35d366"/>
<rect x="567.96" y="379.19" width="4.15" height="15.41" fill="#139c1c"/>
<rect x="572.11" y="379.19" width="1.91" height="15.41" fill="#62d2c6"/>
<rect x="574.03" y="379.19" width="2.87" height="15.41" fill="#12c420"/>
<rect x="581.05" y="379.19" width="7.66" height="15.41" fill="#4462a8"/>
<rect x="588.7" y="379.19" width="1.91" height="15.41" fill="#62d2c6"/>
<rect x="590.62" y="379.19" width="3.38" height="15.41" fill="#35d366"/>
<rect x="517.1" y="363.78" width="3.96" height="15.42" fill="#4f65a4"/>
<rect x="521.06" y="363.78" width="8.93" height="15.42" fill="#4b7db7"/>
<rect x="531.27" y="363.78" width="2.55" height="15.42" fill="#4462a8"/>
<rect x="535.1" y="363.78" width="3.19" height="15.42" fill="#35d366"/>
<rect x="538.29" y="363.78" width="5.11" height="15.42" fill="#4b7db7"/>
<rect x="543.4" y="363.78" width="4.47" height="15.42" fill="#5a6ca8"/>
<rect x="552.01" y="363.78" width="1.28" height="15.42" fill="#4b7db7"/>
<rect x="553.29" y="363.78" width="4.15" height="15.42" fill="#66bddb"/>
<rect x="557.43" y="363.78" width="5.42" height="15.42" fill="#4b7db7"/>
<rect x="562.86" y="363.78" width="5.11" height="15.42" fill="#4462a8"/>
<rect x="569.24" y="363.78" width="6.7" height="15.42" fill="#4f65a4"/>
<rect x="575.94" y="363.78" width="11.81" height="15.42" fill="#14b01e"/>
<rect x="592.85" y="363.78" width="1.15" height="15.42" fill="#4f65a4"/>
<rect x="594" y="379.19" width="1.91" height="15.41" fill="#14b01e"/>
<rect x="595.91" y="379.19" width="2.23" height="15.41" fill="#5b9bc9"/>
<rect x="598.15" y="379.19" width="5.74" height="15.41" fill="#128819"/>
<rect x="603.89" y="379.19" width="2.87" height="15.41" fill="#12c420"/>
<rect x="606.76" y="379.19" width="7.02" height="15.41" fill="#14b01e"/>
<rect x="620.16" y="379.19" width="4.79" height="15.41" fill="#5a6ca8"/>
<rect x="627.06" y="379.19" width="1.91" height="15.41" fill="#35d366"/>
<rect x="630.06" y="379.19" width="1.91" height="15.41" fill="#4f65a4"/>
<rect x="641.22" y="379.19" width="1.91" height="15.41" fill="#0e6a14"/>
<rect x="643.14" y="379.19" width="1.91" height="15.41" fill="#4a8a1a"/>
<rect x="645.05" y="379.19" width="1.91" height="15.41" fill="#0e6a14"/>
<rect x="647.92" y="379.19" width="1.91" height="15.41" fill="#4b7db7"/>
<rect x="665.16" y="379.19" width="2.87" height="15.41" fill="#4f65a4"/>
<rect x="668.03" y="379.19" width="2.23" height="15.41" fill="#5b9bc9"/>
<rect x="670.26" y="379.19" width="7.34" height="15.41" fill="#4462a8"/>
<rect x="677.6" y="379.19" width="3.51" height="15.41" fill="#62d2c6"/>
<rect x="681.11" y="379.19" width="6.89" height="15.41" fill="#12c420"/>
<rect x="594" y="363.78" width="1" height="15.42" fill="#4f65a4"/>
<rect x="599.42" y="363.78" width="7.34" height="15.42" fill="#4462a8"/>
<rect x="635.16" y="363.78" width="6.38" height="15.42" fill="#5a6ca8"/>
<rect x="676.32" y="363.78" width="6.38" height="15.42" fill="#4462a8"/>
<rect x="657.02" y="255.87" width="2.72" height="15.41" fill="#5a6ca8"/>
<rect x="677.1" y="255.87" width="1.02" height="15.41" fill="#4f65a4"/>
<rect x="678.12" y="255.87" width="3.74" height="15.41" fill="#5b9bc9"/>
<rect x="681.87" y="255.87" width="5.11" height="15.41" fill="#4462a8"/>
<rect x="687.99" y="255.87" width="3.74" height="15.41" fill="#4b7db7"/>
<rect x="693.1" y="255.87" width="3.4" height="15.41" fill="#4b7db7"/>
<rect x="696.5" y="255.87" width="2.38" height="15.41" fill="#5a6ca8"/>
<rect x="707.05" y="255.87" width="5.11" height="15.41" fill="#4b7db7"/>
<rect x="712.16" y="255.87" width="4.77" height="15.41" fill="#4f65a4"/>
<rect x="716.92" y="255.87" width="4.08" height="15.41" fill="#5a6ca8"/>
<rect x="722.03" y="255.87" width="3.74" height="15.41" fill="#4b7db7"/>
<rect x="725.77" y="255.87" width="4.42" height="15.41" fill="#5a6ca8"/>
<rect x="657.02" y="271.29" width="2.72" height="15.42" fill="#5a6ca8"/>
<rect x="671.99" y="271.29" width="1.7" height="15.42" fill="#4f65a4"/>
<rect x="674.72" y="271.29" width="1.02" height="15.42" fill="#4f65a4"/>
<rect x="677.1" y="271.29" width="1.02" height="15.42" fill="#4f65a4"/>
<rect x="678.12" y="271.29" width="2.72" height="15.42" fill="#5b9bc9"/>
<rect x="682.89" y="271.29" width="4.77" height="15.42" fill="#4462a8"/>
<rect x="695.82" y="271.29" width="3.06" height="15.42" fill="#5a6ca8"/>
<rect x="700.25" y="271.29" width="1.7" height="15.42" fill="#4462a8"/>
<rect x="701.95" y="271.29" width="2.72" height="15.42" fill="#5b9bc9"/>
<rect x="707.05" y="271.29" width="7.15" height="15.42" fill="#4b7db7"/>
<rect x="715.56" y="271.29" width="5.45" height="15.42" fill="#5a6ca8"/>
<rect x="722.03" y="271.29" width="3.06" height="15.42" fill="#5a6ca8"/>
<rect x="727.47" y="271.29" width="2.72" height="15.42" fill="#5a6ca8"/>
</g>
<rect x="74.5" y="41.5" width="1302" height="385" fill="none" stroke="#000" stroke-width="1" shape-rendering="crispEdges"/>
<g class="t">
<line x1="238.5" y1="426.5" x2="238.5" y2="432"/>
<line x1="418.5" y1="426.5" x2="418.5" y2="432"/>
<line x1="599.5" y1="426.5" x2="599.5" y2="432"/>
<line x1="780.5" y1="426.5" x2="780.5" y2="432"/>
<line x1="960.5" y1="426.5" x2="960.5" y2="432"/>
<line x1="1141.5" y1="426.5" x2="1141.5" y2="432"/>
<line x1="1322.5" y1="426.5" x2="1322.5" y2="432"/>
<line x1="69" y1="418.5" x2="74.5" y2="418.5"/>
<line x1="69" y1="356.5" x2="74.5" y2="356.5"/>
<line x1="69" y1="295.5" x2="74.5" y2="295.5"/>
<line x1="69" y1="233.5" x2="74.5" y2="233.5"/>
<line x1="69" y1="171.5" x2="74.5" y2="171.5"/>
<line x1="69" y1="110.5" x2="74.5" y2="110.5"/>
<line x1="69" y1="48.5" x2="74.5" y2="48.5"/>
<line x1="1409.7" y1="406" x2="1414.6" y2="406"/>
<line x1="1409.7" y1="356.66" x2="1414.6" y2="356.66"/>
<line x1="1409.7" y1="307.31" x2="1414.6" y2="307.31"/>
<line x1="1409.7" y1="257.97" x2="1414.6" y2="257.97"/>
<line x1="1409.7" y1="208.63" x2="1414.6" y2="208.63"/>
<line x1="1409.7" y1="159.29" x2="1414.6" y2="159.29"/>
<line x1="1409.7" y1="109.94" x2="1414.6" y2="109.94"/>
<line x1="1409.7" y1="60.6" x2="1414.6" y2="60.6"/>
</g>
<text class="tl" x="64.4" y="426.3" text-anchor="end">0</text>
<text class="tl" x="64.4" y="364.64" text-anchor="end">2</text>
<text class="tl" x="64.4" y="302.98" text-anchor="end">4</text>
<text class="tl" x="64.4" y="241.32" text-anchor="end">6</text>
<text class="tl" x="64.4" y="179.66" text-anchor="end">8</text>
<text class="tl" x="64.4" y="118" text-anchor="end">10</text>
<text class="tl" x="64.4" y="56.34" text-anchor="end">12</text>
<text class="cl" x="1419.5" y="414.4">0</text>
<text class="cl" x="1419.5" y="365.06">10</text>
<text class="cl" x="1419.5" y="315.71">20</text>
<text class="cl" x="1419.5" y="266.37">30</text>
<text class="cl" x="1419.5" y="217.03">40</text>
<text class="cl" x="1419.5" y="167.69">50</text>
<text class="cl" x="1419.5" y="118.34">60</text>
<text class="cl" x="1419.5" y="69">70</text>
<g shape-rendering="crispEdges">
<rect x="1392.4" y="393.66" width="17.3" height="12.64" fill="#6673aa"/>
<rect x="1392.4" y="381.33" width="17.3" height="12.64" fill="#5669a7"/>
<rect x="1392.4" y="368.99" width="17.3" height="12.64" fill="#4260a5"/>
<rect x="1392.4" y="356.66" width="17.3" height="12.64" fill="#4a7ab5"/>
<rect x="1392.4" y="344.32" width="17.3" height="12.64" fill="#5a9ac8"/>
<rect x="1392.4" y="331.99" width="17.3" height="12.64" fill="#66b8da"/>
<rect x="1392.4" y="319.65" width="17.3" height="12.64" fill="#62d2c6"/>
<rect x="1392.4" y="307.31" width="17.3" height="12.64" fill="#35d366"/>
<rect x="1392.4" y="294.98" width="17.3" height="12.64" fill="#12c420"/>
<rect x="1392.4" y="282.64" width="17.3" height="12.64" fill="#13b220"/>
<rect x="1392.4" y="270.31" width="17.3" height="12.64" fill="#13a01f"/>
<rect x="1392.4" y="257.97" width="17.3" height="12.64" fill="#128e1e"/>
<rect x="1392.4" y="245.64" width="17.3" height="12.64" fill="#117c1b"/>
<rect x="1392.4" y="233.3" width="17.3" height="12.64" fill="#0e6816"/>
<rect x="1392.4" y="220.96" width="17.3" height="12.64" fill="#4a8a1a"/>
<rect x="1392.4" y="208.63" width="17.3" height="12.64" fill="#a3b31f"/>
<rect x="1392.4" y="196.29" width="17.3" height="12.64" fill="#ffdb00"/>
<rect x="1392.4" y="183.96" width="17.3" height="12.64" fill="#ffbe00"/>
<rect x="1392.4" y="171.62" width="17.3" height="12.64" fill="#ffa300"/>
<rect x="1392.4" y="159.29" width="17.3" height="12.64" fill="#ff8400"/>
<rect x="1392.4" y="146.95" width="17.3" height="12.64" fill="#e60000"/>
<rect x="1392.4" y="134.61" width="17.3" height="12.64" fill="#c80000"/>
<rect x="1392.4" y="122.28" width="17.3" height="12.64" fill="#a80000"/>
<rect x="1392.4" y="109.94" width="17.3" height="12.64" fill="#800000"/>
<rect x="1392.4" y="97.61" width="17.3" height="12.64" fill="#ffd6ff"/>
<rect x="1392.4" y="85.27" width="17.3" height="12.64" fill="#ffaaff"/>
<rect x="1392.4" y="72.94" width="17.3" height="12.64" fill="#ff66ff"/>
<rect x="1392.4" y="60.6" width="17.3" height="12.64" fill="#ee33ee"/>
</g>
<rect x="1392.4" y="60.6" width="17.3" height="345.4" fill="none" stroke="#000" stroke-width="0.8"/>
<text x="725.5" y="33.6" text-anchor="middle" font-size="30.56">25.12.2025 23:25 - 23:29 UTC</text>
<text x="74.3" y="31.2" font-size="13.89">Product: Maximum Reflectivity</text>
<text x="725" y="455.8" text-anchor="middle" font-size="25">South to North</text>
<text transform="translate(28.3,234.8) rotate(-90)" text-anchor="middle" font-size="25">km AMSL</text>
<text transform="translate(1469.7,235.9) rotate(-90)" text-anchor="middle" font-size="22.2">dBZ</text>
<text x="1351.2" y="440.7" font-size="13.89" letter-spacing="-0.6">1e6</text>
</svg>
</body>
</html>
